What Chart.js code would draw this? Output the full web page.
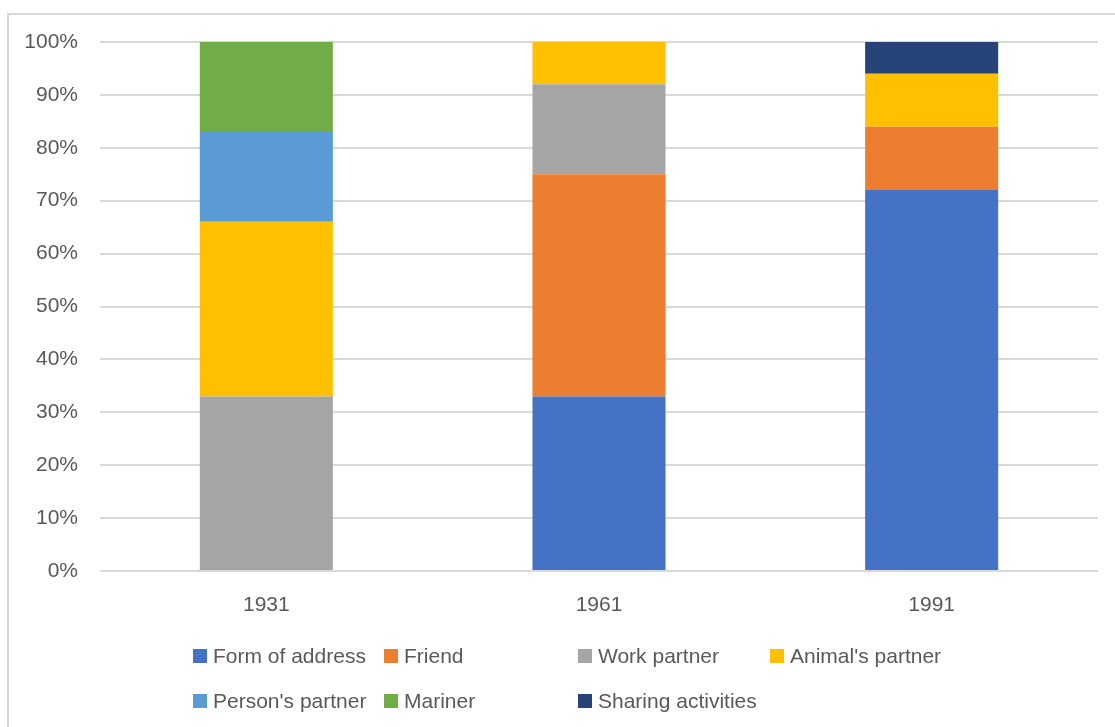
<!DOCTYPE html>
<html>
<head>
<meta charset="utf-8">
<script src="https://cdn.jsdelivr.net/npm/chart.js@4"></script>
<style>
  html, body { margin: 0; padding: 0; background: #fff; }
  #wrap { position: relative; width: 1115px; height: 727px; overflow: hidden; }
  #frame { position: absolute; left: 7px; top: 13px; width: 1120px; height: 730px;
           border-left: 2px solid #d9d9d9; border-top: 2px solid #d9d9d9; box-sizing: border-box; }
  canvas { position: absolute; left: 0; top: 0; }
  .lg { position: absolute; font-family: 'Liberation Sans', Arial, sans-serif; font-size: 21px;
        color: #595959; white-space: nowrap; line-height: 24px; }
  .lg .bx { position: absolute; left: 0; top: 5px; width: 14px; height: 14px; }
  .lg .tx { position: absolute; left: 20px; top: 0; }
</style>
</head>
<body>
<div id="wrap">
  <div id="frame"></div>
  <canvas id="c" width="1115" height="727"></canvas>
</div>
<script>
const categories = ['1931', '1961', '1991'];
const seriesNames = ['Form of address', 'Friend', 'Work partner', "Animal's partner",
                     "Person's partner", 'Mariner', 'Sharing activities'];
const formOfAddress     = [null, 33, 72];
const friend            = [null, 42, 12];
const workPartner       = [33, 17, null];
const animalsPartner    = [33, 8, 10];
const personsPartner    = [17, null, null];
const mariner           = [17, null, null];
const sharingActivities = [null, null, 6];
const seriesColors = ['#4472C4', '#ED7D31', '#A5A5A5', '#FFC000', '#5B9BD5', '#70AD47', '#264478'];
const yTicks = [0, 10, 20, 30, 40, 50, 60, 70, 80, 90, 100];

const seriesValues = [formOfAddress, friend, workPartner, animalsPartner, personsPartner, mariner, sharingActivities];

Chart.defaults.font.family = "'Liberation Sans', Arial, sans-serif";
Chart.defaults.font.size = 21;
Chart.defaults.color = '#595959';

new Chart(document.getElementById('c'), {
  type: 'bar',
  data: {
    labels: categories,
    datasets: seriesNames.map((n, i) => ({
      label: n,
      data: seriesValues[i],
      backgroundColor: seriesColors[i],
      borderWidth: 0,
      categoryPercentage: 1,
      barPercentage: 0.4
    }))
  },
  options: {
    responsive: false,
    animation: false,
    layout: { padding: { top: 42, right: 17, bottom: 0, left: 0 } },
    plugins: { legend: { display: false }, tooltip: { enabled: false } },
    scales: {
      x: {
        stacked: true,
        grid: { display: false, drawTicks: false },
        border: { display: false },
        ticks: { padding: 22 },
        afterFit: s => { s.height = 156; }
      },
      y: {
        stacked: true,
        min: 0, max: 100,
        afterBuildTicks: s => { s.ticks = yTicks.map(v => ({ value: v })); },
        grid: { color: '#d9d9d9', lineWidth: 2, drawTicks: false },
        border: { display: false },
        ticks: { padding: 22, callback: v => v + '%' },
        afterFit: s => { s.width = 100; }
      }
    }
  }
});

// HTML legend built from the series arrays
const legendCols = [193, 384, 578, 770];
const legendRows = [644, 689];
const wrap = document.getElementById('wrap');
seriesNames.forEach((n, i) => {
  const d = document.createElement('div');
  d.className = 'lg';
  d.style.left = legendCols[i % 4] + 'px';
  d.style.top = legendRows[Math.floor(i / 4)] + 'px';
  d.innerHTML = '<span class="bx" style="background:' + seriesColors[i] + '"></span><span class="tx"></span>';
  d.querySelector('.tx').textContent = n;
  wrap.appendChild(d);
});
</script>
</body>
</html>
